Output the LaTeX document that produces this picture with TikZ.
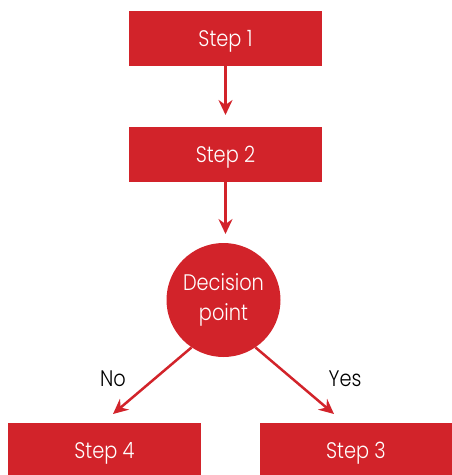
\documentclass[tikz,border=0pt]{standalone}
\usepackage{fontspec}
\setmainfont{Poppins Light}[FakeStretch=0.86]
\usetikzlibrary{arrows.meta}
\definecolor{fred}{HTML}{D2232A}
\begin{document}
\begin{tikzpicture}[x=1pt,y=-1pt,
  stepbox/.style={fill=fred,draw=none,minimum width=193pt,minimum height=55pt,inner sep=0pt,text=white,text depth=0pt,font=\fontsize{22.5}{24}\selectfont},
  decbox/.style={circle,fill=fred,draw=none,minimum size=114pt,inner sep=0pt,text=white,align=center,font=\fontsize{22.5}{30}\selectfont},
  conn/.style={draw=fred,line width=2.5pt,-{Stealth[length=15pt,width=14pt,inset=5pt]}},
  lbl/.style={font=\fontsize{22.5}{24}\selectfont,text=black,text depth=0pt}]
\useasboundingbox (0,0) rectangle (451,475);
\node[stepbox] (s1) at (225.5,38.5) {Step 1};
\node[stepbox] (s2) at (225.5,154.5) {Step 2};
\node[decbox] (d) at (223.5,300) {Decision\\point};
\node[stepbox] (s4) at (104.5,450.5) {Step 4};
\node[stepbox] (s3) at (356,450.5) {Step 3};
\coordinate (t1) at (225.5,115);
\coordinate (t2) at (225.5,234);
\coordinate (t4) at (113,414);
\coordinate (t3) at (334,414);
\draw[conn] (s1.south) -- (t1);
\draw[conn] (s2.south) -- (t2);
\draw[conn] (d.236) -- (t4);
\draw[conn] (d.-56) -- (t3);
\node[lbl] (no) at (113,378.5) {No};
\node[lbl] (yes) at (345,378.5) {Yes};
\end{tikzpicture}
\end{document}
